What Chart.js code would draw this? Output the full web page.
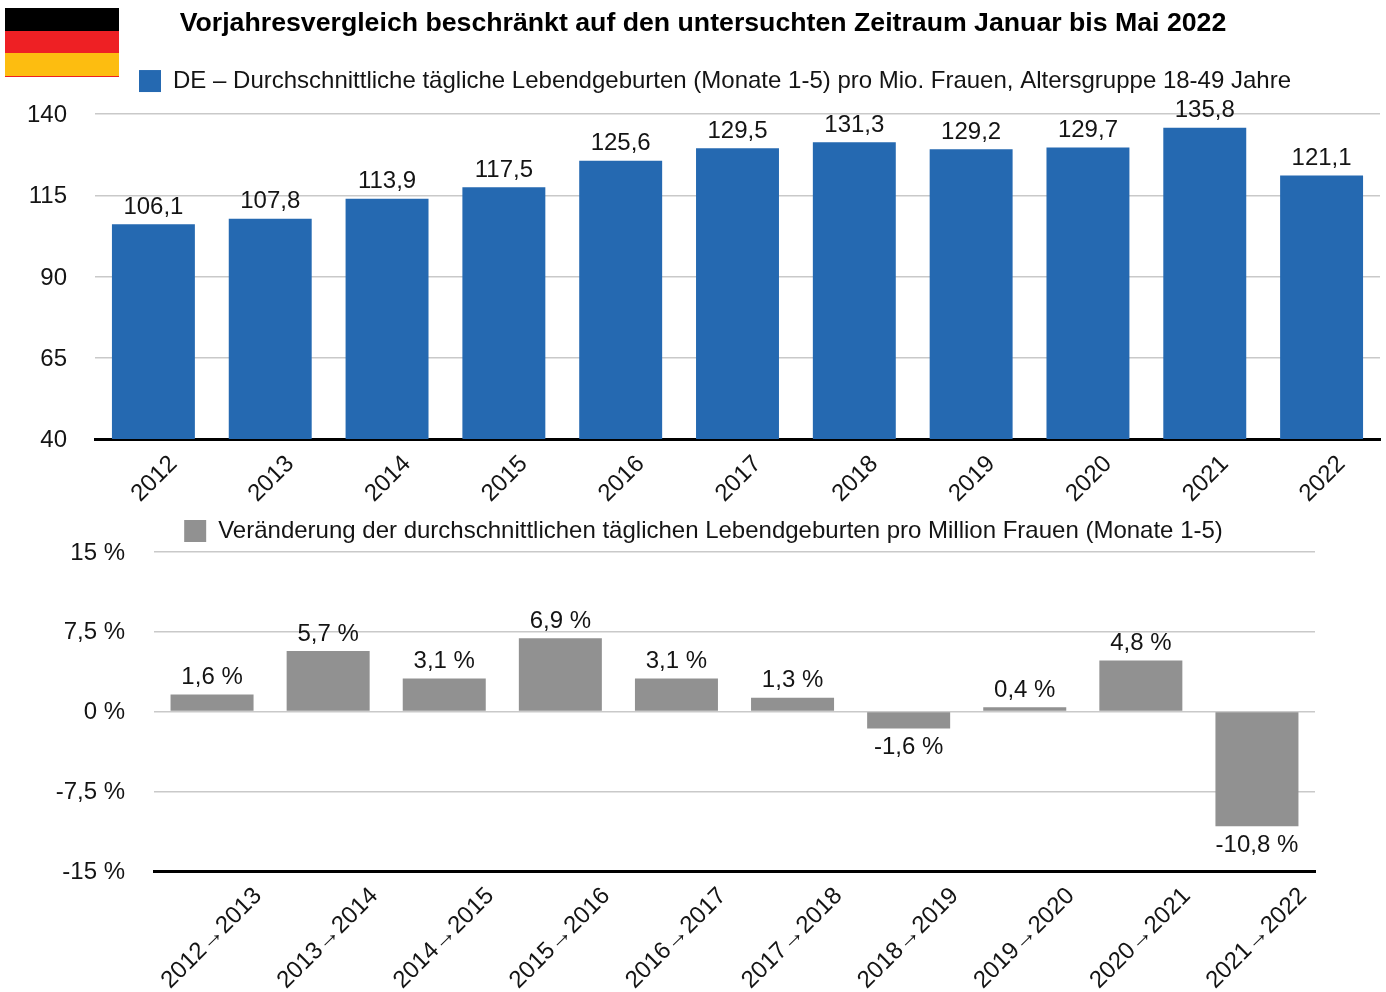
<!DOCTYPE html>
<html>
<head>
<meta charset="utf-8">
<title>Lebendgeburten DE</title>
<script src="https://cdn.jsdelivr.net/npm/chart.js@4"></script>
<style>
  html, body { margin: 0; padding: 0; background: #fff; overflow: hidden; }
  canvas { position: absolute; left: 0; }
  #topChart { top: 0; }
  #bottomChart { top: 506px; }
  .band { position: absolute; left: 5px; width: 114px; }
</style>
</head>
<body>
<div class="band" style="top:8px;height:23px;background:#000"></div>
<div class="band" style="top:31px;height:22px;background:#ee2024"></div>
<div class="band" style="top:53px;height:23px;background:#fdbd10"></div>
<div class="band" style="top:76px;height:1px;background:#ee2024"></div>
<canvas id="topChart" width="1386" height="506"></canvas>
<canvas id="bottomChart" width="1386" height="486"></canvas>
<script>
const years = ['2012', '2013', '2014', '2015', '2016', '2017', '2018', '2019', '2020', '2021', '2022'];
const birthRates = [106.1, 107.8, 113.9, 117.5, 125.6, 129.5, 131.3, 129.2, 129.7, 135.8, 121.1];
const yearPairs = ['2012→2013', '2013→2014', '2014→2015', '2015→2016', '2016→2017', '2017→2018', '2018→2019', '2019→2020', '2020→2021', '2021→2022'];
const changes = [1.6, 5.7, 3.1, 6.9, 3.1, 1.3, -1.6, 0.4, 4.8, -10.8];

const titleText = 'Vorjahresvergleich beschränkt auf den untersuchten Zeitraum Januar bis Mai 2022';
const topLegend = 'DE – Durchschnittliche tägliche Lebendgeburten (Monate 1-5) pro Mio. Frauen, Altersgruppe 18-49 Jahre';
const bottomLegend = 'Veränderung der durchschnittlichen täglichen Lebendgeburten pro Million Frauen (Monate 1-5)';

const fontFamily = '"Liberation Sans", Arial, sans-serif';
const textColor = '#141414';
Chart.defaults.font.family = fontFamily;
Chart.defaults.color = textColor;
Chart.defaults.animation = false;

const comma = (v) => String(v).replace('.', ',');

// Value labels above the bars (below for negative ones)
const barLabels = {
  id: 'barLabels',
  afterDatasetsDraw(chart, args, opts) {
    const ctx = chart.ctx;
    const values = chart.data.datasets[0].data;
    ctx.save();
    ctx.font = '24px ' + fontFamily;
    ctx.fillStyle = textColor;
    ctx.textAlign = 'center';
    chart.getDatasetMeta(0).data.forEach((bar, i) => {
      const neg = values[i] < 0;
      ctx.textBaseline = neg ? 'top' : 'bottom';
      ctx.fillText(opts.format(values[i]), bar.x, neg ? bar.y + 7 : bar.y - 5);
    });
    ctx.restore();
  }
};

// Title and legend are not centred on the canvas in the original
const shiftBoxes = {
  id: 'shiftBoxes',
  afterUpdate(chart, args, opts) {
    if (chart.titleBlock) {
      chart.titleBlock.left += opts.title;
      chart.titleBlock.right += opts.title;
    }
    chart.legend.left += opts.legend;
    chart.legend.right += opts.legend;
    chart.legend.top += opts.legendY;
    chart.legend.bottom += opts.legendY;
  }
};

function baseOptions(axisWidth, axisHeight, rightPad, topPad, tickPad, labelOffset, yLabelOffset) {
  return {
    responsive: false,
    layout: { padding: { right: rightPad, top: topPad } },
    scales: {
      x: {
        afterFit: (s) => { s.height = axisHeight; },
        grid: { display: false },
        border: { color: '#000', width: 3 },
        ticks: {
          autoSkip: false,
          minRotation: 45,
          maxRotation: 45,
          padding: 3,
          labelOffset: labelOffset,
          font: { size: 24 }
        }
      },
      y: {
        afterFit: (s) => { s.width = axisWidth; },
        border: { display: false },
        grid: { color: '#c9c9c9', lineWidth: 1.5, drawTicks: false },
        ticks: { padding: tickPad, labelOffset: yLabelOffset, font: { size: 24 } }
      }
    }
  };
}

function legendOptions(padding) {
  return {
    display: true,
    position: 'top',
    labels: { boxWidth: 22, boxHeight: 22, padding: padding, font: { size: 24 }, color: textColor }
  };
}

const topOptions = baseOptions(95, 67, 6, 0, 28, 20, 1.5);
topOptions.scales.y.min = 40;
topOptions.scales.y.max = 140;
topOptions.scales.y.ticks.stepSize = 25;
topOptions.plugins = {
  title: {
    display: true,
    text: titleText,
    color: '#000',
    font: { size: 26.7, weight: 'bold' },
    padding: { top: 8, bottom: 18 }
  },
  legend: legendOptions(22),
  tooltip: { enabled: false },
  barLabels: { format: comma },
  shiftBoxes: { title: 13, legend: 25, legendY: -11 }
};

new Chart(document.getElementById('topChart'), {
  type: 'bar',
  data: {
    labels: years,
    datasets: [{
      label: topLegend,
      data: birthRates,
      backgroundColor: '#2569b1',
      barPercentage: 0.71,
      categoryPercentage: 1
    }]
  },
  options: topOptions,
  plugins: [barLabels, shiftBoxes]
});

const bottomOptions = baseOptions(154, 121, 71, 2, 29, 46, 1);
bottomOptions.scales.y.min = -15;
bottomOptions.scales.y.max = 15;
bottomOptions.scales.y.ticks.stepSize = 7.5;
bottomOptions.scales.y.ticks.callback = (v) => comma(v) + ' %';
bottomOptions.plugins = {
  legend: legendOptions(10),
  tooltip: { enabled: false },
  barLabels: { format: (v) => comma(v) + ' %' },
  shiftBoxes: { title: 0, legend: 46, legendY: 1 }
};

new Chart(document.getElementById('bottomChart'), {
  type: 'bar',
  data: {
    labels: yearPairs,
    datasets: [{
      label: bottomLegend,
      data: changes,
      backgroundColor: '#919191',
      barPercentage: 0.715,
      categoryPercentage: 1
    }]
  },
  options: bottomOptions,
  plugins: [barLabels, shiftBoxes]
});
</script>
</body>
</html>
